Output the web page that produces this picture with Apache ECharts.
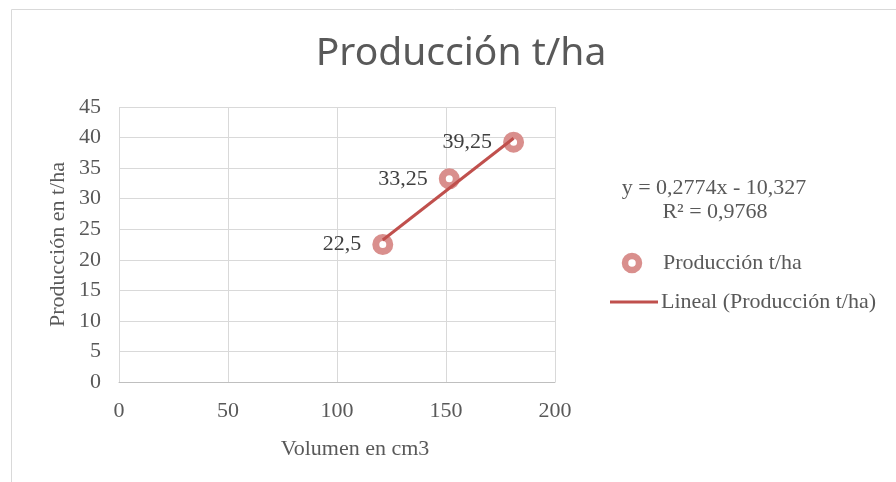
<!DOCTYPE html>
<html>
<head>
<meta charset="utf-8">
<script src="https://cdn.jsdelivr.net/npm/echarts@6/dist/echarts.min.js"></script>
<style>html,body{margin:0;padding:0;background:#fff;}#c{width:896px;height:482px;}</style>
</head>
<body>
<div id="c"></div>
<script>
var volumen = [121, 151.5, 181];
var produccion = [22.5, 33.25, 39.25];
var trendSlope = 0.2774;
var trendIntercept = -10.327;
var labelsTxt = ['22,5', '33,25', '39,25'];
var seriesNames = ['Producción t/ha', 'Lineal (Producción t/ha)'];

var serif = '"Liberation Serif", "Times New Roman", serif';
var ringColor = '#d98f8d';
var lineColor = '#c0504d';
var chart = echarts.init(document.getElementById('c'));
var pts = volumen.map(function (v, i) { return [v, produccion[i]]; });
var xMin = Math.min.apply(null, volumen), xMax = Math.max.apply(null, volumen);
var trend = [[xMin, trendSlope * xMin + trendIntercept], [xMax, trendSlope * xMax + trendIntercept]];

chart.setOption({
  animation: false,
  title: {
    text: 'Producción t/ha', left: 456, top: 29, textAlign: 'center',
    textStyle: { fontFamily: '"Noto Sans", sans-serif', fontWeight: 'normal', fontSize: 39, color: '#595959' }
  },
  grid: { left: 119, right: 341, top: 107, bottom: 100, containLabel: false },
  xAxis: {
    type: 'value', min: 0, max: 200, interval: 50,
    name: 'Volumen en cm3', nameLocation: 'middle', nameGap: 56,
    nameTextStyle: { fontFamily: serif, fontSize: 22, color: '#595959', padding: [0, 0, 0, 36] },
    axisLine: { show: true, lineStyle: { color: '#bfbfbf', width: 1 } },
    axisTick: { show: false },
    axisLabel: { fontFamily: serif, fontSize: 22, color: '#595959', margin: 18 },
    splitLine: { show: true, lineStyle: { color: '#d9d9d9', width: 1 } }
  },
  yAxis: {
    type: 'value', min: 0, max: 45, interval: 5,
    name: 'Producción en t/ha', nameLocation: 'middle', nameGap: 50, nameRotate: 90,
    nameTextStyle: { fontFamily: serif, fontSize: 22, color: '#595959' },
    axisLine: { show: false },
    axisTick: { show: false },
    axisLabel: { fontFamily: serif, fontSize: 22, color: '#595959', margin: 18 },
    splitLine: { show: true, lineStyle: { color: '#d9d9d9', width: 1 } }
  },
  graphic: [
    { type: 'rect', shape: { x: 11.5, y: 9.5, width: 1000, height: 600 }, style: { fill: null, stroke: '#d9d9d9', lineWidth: 1 }, silent: true, z: -10 },
    { type: 'text', x: 714, y: 188, style: { text: 'y = 0,2774x - 10,327', font: '22px ' + serif, fill: '#595959', textAlign: 'center', textVerticalAlign: 'middle' } },
    { type: 'text', x: 715, y: 212, style: { text: 'R² = 0,9768', font: '22px ' + serif, fill: '#595959', textAlign: 'center', textVerticalAlign: 'middle' } },
    { type: 'circle', shape: { cx: 632, cy: 263, r: 7 }, style: { fill: '#fff', stroke: ringColor, lineWidth: 6.5 } },
    { type: 'text', x: 663, y: 263, style: { text: seriesNames[0], font: '22px ' + serif, fill: '#595959', textVerticalAlign: 'middle' } },
    { type: 'line', shape: { x1: 610, y1: 302, x2: 658, y2: 302 }, style: { stroke: lineColor, lineWidth: 3 } },
    { type: 'text', x: 661, y: 302, style: { text: seriesNames[1], font: '22px ' + serif, fill: '#595959', textVerticalAlign: 'middle' } }
  ],
  series: [
    {
      name: seriesNames[1], type: 'line', data: trend, symbol: 'none', showSymbol: false,
      lineStyle: { color: lineColor, width: 3 }, itemStyle: { color: lineColor }, z: 3
    },
    {
      name: seriesNames[0], type: 'scatter', data: pts, symbol: 'circle', symbolSize: 14,
      itemStyle: { color: '#ffffff', borderColor: ringColor, borderWidth: 7, opacity: 1 },
      label: {
        show: true, position: 'left', distance: 11,
        formatter: function (p) { return labelsTxt[p.dataIndex]; },
        fontFamily: serif, fontSize: 22, color: '#404040'
      },
      z: 2
    }
  ]
});
</script>
</body>
</html>
